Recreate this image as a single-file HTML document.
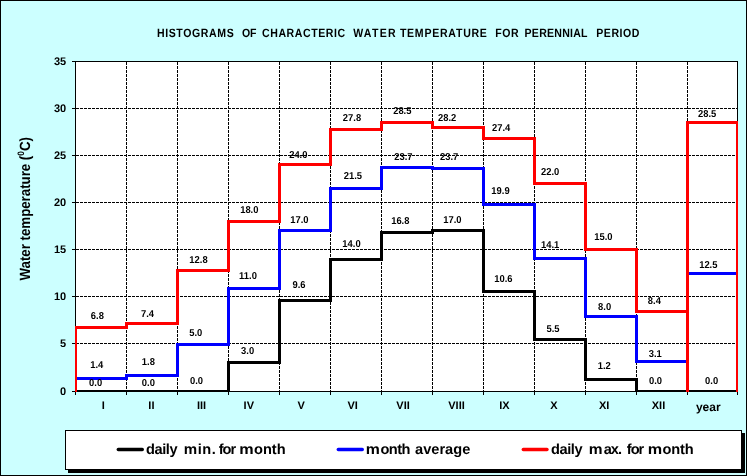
<!DOCTYPE html>
<html><head><meta charset="utf-8"><title>Histograms</title>
<style>
html,body{margin:0;padding:0;background:#ccffff;}
body{width:747px;height:476px;overflow:hidden;font-family:"Liberation Sans",sans-serif;}
svg{display:block;position:absolute;left:0;top:0;will-change:transform;}
text{font-family:"Liberation Sans",sans-serif;font-weight:bold;fill:#000;text-rendering:geometricPrecision;}
.dl{font-size:10px;text-anchor:middle;}
.ax{font-size:11px;}
.g{stroke:#000;stroke-width:1;stroke-dasharray:3 1;shape-rendering:crispEdges;fill:none;}
.s{fill:none;stroke-width:3;stroke-linejoin:miter;stroke-linecap:butt;shape-rendering:crispEdges;}
</style></head><body>
<svg width="747" height="476" viewBox="0 0 747 476">
<rect x="0" y="0" width="747" height="476" fill="#ccffff"/>
<rect x="0.5" y="0.5" width="746" height="475" fill="none" stroke="#000" stroke-width="1" shape-rendering="crispEdges"/>
<rect x="75.5" y="61.5" width="662" height="330" fill="#fff" stroke="#000" stroke-width="1" shape-rendering="crispEdges"/>
<line class="g" x1="76" y1="108.5" x2="737" y2="108.5"/>
<line class="g" x1="76" y1="155.5" x2="737" y2="155.5"/>
<line class="g" x1="76" y1="202.5" x2="737" y2="202.5"/>
<line class="g" x1="76" y1="249.5" x2="737" y2="249.5"/>
<line class="g" x1="76" y1="296.5" x2="737" y2="296.5"/>
<line class="g" x1="76" y1="343.5" x2="737" y2="343.5"/>
<line class="g" x1="126.5" y1="62" x2="126.5" y2="391"/>
<line class="g" x1="177.5" y1="62" x2="177.5" y2="391"/>
<line class="g" x1="228.5" y1="62" x2="228.5" y2="391"/>
<line class="g" x1="279.5" y1="62" x2="279.5" y2="391"/>
<line class="g" x1="330.5" y1="62" x2="330.5" y2="391"/>
<line class="g" x1="381.5" y1="62" x2="381.5" y2="391"/>
<line class="g" x1="432.5" y1="62" x2="432.5" y2="391"/>
<line class="g" x1="483.5" y1="62" x2="483.5" y2="391"/>
<line class="g" x1="534.5" y1="62" x2="534.5" y2="391"/>
<line class="g" x1="585.5" y1="62" x2="585.5" y2="391"/>
<line class="g" x1="636.5" y1="62" x2="636.5" y2="391"/>
<line class="g" x1="687.5" y1="62" x2="687.5" y2="391"/>
<line x1="72" y1="61.5" x2="76" y2="61.5" stroke="#000" stroke-width="1" shape-rendering="crispEdges"/>
<line x1="72" y1="108.5" x2="76" y2="108.5" stroke="#000" stroke-width="1" shape-rendering="crispEdges"/>
<line x1="72" y1="155.5" x2="76" y2="155.5" stroke="#000" stroke-width="1" shape-rendering="crispEdges"/>
<line x1="72" y1="202.5" x2="76" y2="202.5" stroke="#000" stroke-width="1" shape-rendering="crispEdges"/>
<line x1="72" y1="249.5" x2="76" y2="249.5" stroke="#000" stroke-width="1" shape-rendering="crispEdges"/>
<line x1="72" y1="296.5" x2="76" y2="296.5" stroke="#000" stroke-width="1" shape-rendering="crispEdges"/>
<line x1="72" y1="343.5" x2="76" y2="343.5" stroke="#000" stroke-width="1" shape-rendering="crispEdges"/>
<line x1="72" y1="391.5" x2="76" y2="391.5" stroke="#000" stroke-width="1" shape-rendering="crispEdges"/>
<line x1="75.5" y1="391" x2="75.5" y2="395" stroke="#000" stroke-width="1" shape-rendering="crispEdges"/>
<line x1="126.5" y1="391" x2="126.5" y2="395" stroke="#000" stroke-width="1" shape-rendering="crispEdges"/>
<line x1="177.5" y1="391" x2="177.5" y2="395" stroke="#000" stroke-width="1" shape-rendering="crispEdges"/>
<line x1="228.5" y1="391" x2="228.5" y2="395" stroke="#000" stroke-width="1" shape-rendering="crispEdges"/>
<line x1="279.5" y1="391" x2="279.5" y2="395" stroke="#000" stroke-width="1" shape-rendering="crispEdges"/>
<line x1="330.5" y1="391" x2="330.5" y2="395" stroke="#000" stroke-width="1" shape-rendering="crispEdges"/>
<line x1="381.5" y1="391" x2="381.5" y2="395" stroke="#000" stroke-width="1" shape-rendering="crispEdges"/>
<line x1="432.5" y1="391" x2="432.5" y2="395" stroke="#000" stroke-width="1" shape-rendering="crispEdges"/>
<line x1="483.5" y1="391" x2="483.5" y2="395" stroke="#000" stroke-width="1" shape-rendering="crispEdges"/>
<line x1="534.5" y1="391" x2="534.5" y2="395" stroke="#000" stroke-width="1" shape-rendering="crispEdges"/>
<line x1="585.5" y1="391" x2="585.5" y2="395" stroke="#000" stroke-width="1" shape-rendering="crispEdges"/>
<line x1="636.5" y1="391" x2="636.5" y2="395" stroke="#000" stroke-width="1" shape-rendering="crispEdges"/>
<line x1="687.5" y1="391" x2="687.5" y2="395" stroke="#000" stroke-width="1" shape-rendering="crispEdges"/>
<line x1="737.5" y1="391" x2="737.5" y2="395" stroke="#000" stroke-width="1" shape-rendering="crispEdges"/>
<text class="ax" x="66.2" y="65.4" text-anchor="end">35</text>
<text class="ax" x="66.2" y="112.4" text-anchor="end">30</text>
<text class="ax" x="66.2" y="159.4" text-anchor="end">25</text>
<text class="ax" x="66.2" y="206.4" text-anchor="end">20</text>
<text class="ax" x="66.2" y="253.4" text-anchor="end">15</text>
<text class="ax" x="66.2" y="300.4" text-anchor="end">10</text>
<text class="ax" x="66.2" y="347.4" text-anchor="end">5</text>
<text class="ax" x="66.2" y="395.0" text-anchor="end">0</text>
<clipPath id="cp"><rect x="75" y="50" width="663" height="342"/></clipPath><g clip-path="url(#cp)">
<path class="s" stroke="#000" d="M75.5,391.5 L126.5,391.5 L126.5,391.5 L177.5,391.5 L177.5,391.5 L228.5,391.5 L228.5,362.5 L279.5,362.5 L279.5,300.5 L330.5,300.5 L330.5,259.5 L381.5,259.5 L381.5,232.5 L432.5,232.5 L432.5,230.5 L483.5,230.5 L483.5,291.5 L534.5,291.5 L534.5,339.5 L585.5,339.5 L585.5,379.5 L636.5,379.5 L636.5,391.5 L687.5,391.5 L687.5,391.5 L737.5,391.5"/>
<path class="s" stroke="#00f" d="M75.5,378.5 L126.5,378.5 L126.5,375.5 L177.5,375.5 L177.5,344.5 L228.5,344.5 L228.5,288.5 L279.5,288.5 L279.5,230.5 L330.5,230.5 L330.5,188.5 L381.5,188.5 L381.5,167.5 L432.5,167.5 L432.5,168.5 L483.5,168.5 L483.5,204.5 L534.5,204.5 L534.5,258.5 L585.5,258.5 L585.5,316.5 L636.5,316.5 L636.5,361.5 L687.5,361.5 L687.5,273.5 L737.5,273.5"/>
<path class="s" stroke="#f00" d="M75.5,392.0 L75.5,327.5 L126.5,327.5 L126.5,323.5 L177.5,323.5 L177.5,270.5 L228.5,270.5 L228.5,221.5 L279.5,221.5 L279.5,164.5 L330.5,164.5 L330.5,129.5 L381.5,129.5 L381.5,122.5 L432.5,122.5 L432.5,127.5 L483.5,127.5 L483.5,138.5 L534.5,138.5 L534.5,183.5 L585.5,183.5 L585.5,249.5 L636.5,249.5 L636.5,311.5 L687.5,311.5 L687.5,392.0 L687.5,122.5 L737.5,122.5 L737.5,392.0"/>
</g>
<text class="dl" transform="translate(97.4,319.1) scale(0.94,1)">6.8</text>
<text class="dl" transform="translate(147.5,317.1) scale(0.94,1)">7.4</text>
<text class="dl" transform="translate(198.5,263.1) scale(0.94,1)">12.8</text>
<text class="dl" transform="translate(249.3,213.1) scale(0.94,1)">18.0</text>
<text class="dl" transform="translate(298.3,158.1) scale(0.94,1)">24.0</text>
<text class="dl" transform="translate(352.0,121.1) scale(0.94,1)">27.8</text>
<text class="dl" transform="translate(402.3,114.1) scale(0.94,1)">28.5</text>
<text class="dl" transform="translate(447.1,121.1) scale(0.94,1)">28.2</text>
<text class="dl" transform="translate(501.2,131.1) scale(0.94,1)">27.4</text>
<text class="dl" transform="translate(550.2,175.1) scale(0.94,1)">22.0</text>
<text class="dl" transform="translate(603.4,240.1) scale(0.94,1)">15.0</text>
<text class="dl" transform="translate(654.4,304.1) scale(0.94,1)">8.4</text>
<text class="dl" transform="translate(707.2,117.1) scale(0.94,1)">28.5</text>
<text class="dl" transform="translate(96.7,368.1) scale(0.94,1)">1.4</text>
<text class="dl" transform="translate(148.4,365.1) scale(0.94,1)">1.8</text>
<text class="dl" transform="translate(195.7,336.1) scale(0.94,1)">5.0</text>
<text class="dl" transform="translate(248.0,279.1) scale(0.94,1)">11.0</text>
<text class="dl" transform="translate(299.4,223.1) scale(0.94,1)">17.0</text>
<text class="dl" transform="translate(352.9,179.1) scale(0.94,1)">21.5</text>
<text class="dl" transform="translate(403.4,160.1) scale(0.94,1)">23.7</text>
<text class="dl" transform="translate(449.1,160.1) scale(0.94,1)">23.7</text>
<text class="dl" transform="translate(500.5,194.1) scale(0.94,1)">19.9</text>
<text class="dl" transform="translate(550.2,248.1) scale(0.94,1)">14.1</text>
<text class="dl" transform="translate(604.6,310.1) scale(0.94,1)">8.0</text>
<text class="dl" transform="translate(655.3,357.1) scale(0.94,1)">3.1</text>
<text class="dl" transform="translate(708.3,268.1) scale(0.94,1)">12.5</text>
<text class="dl" transform="translate(95.6,386.1) scale(0.94,1)">0.0</text>
<text class="dl" transform="translate(148.4,386.1) scale(0.94,1)">0.0</text>
<text class="dl" transform="translate(196.5,384.1) scale(0.94,1)">0.0</text>
<text class="dl" transform="translate(247.6,354.1) scale(0.94,1)">3.0</text>
<text class="dl" transform="translate(299.0,288.1) scale(0.94,1)">9.6</text>
<text class="dl" transform="translate(351.5,247.1) scale(0.94,1)">14.0</text>
<text class="dl" transform="translate(400.3,224.1) scale(0.94,1)">16.8</text>
<text class="dl" transform="translate(452.4,223.1) scale(0.94,1)">17.0</text>
<text class="dl" transform="translate(503.4,282.1) scale(0.94,1)">10.6</text>
<text class="dl" transform="translate(553.0,332.1) scale(0.94,1)">5.5</text>
<text class="dl" transform="translate(604.2,369.1) scale(0.94,1)">1.2</text>
<text class="dl" transform="translate(655.5,384.1) scale(0.94,1)">0.0</text>
<text class="dl" transform="translate(711.6,384.1) scale(0.94,1)">0.0</text>
<text class="ax" x="103.3" y="409.2" text-anchor="middle">I</text>
<text class="ax" x="151.4" y="409.2" text-anchor="middle">II</text>
<text class="ax" x="201.6" y="409.2" text-anchor="middle">III</text>
<text class="ax" x="248.8" y="409.2" text-anchor="middle">IV</text>
<text class="ax" x="301.1" y="409.2" text-anchor="middle">V</text>
<text class="ax" x="352.7" y="409.2" text-anchor="middle">VI</text>
<text class="ax" x="403.1" y="409.2" text-anchor="middle">VII</text>
<text class="ax" x="456.5" y="409.2" text-anchor="middle">VIII</text>
<text class="ax" x="504.4" y="409.2" text-anchor="middle">IX</text>
<text class="ax" x="553.9" y="409.2" text-anchor="middle">X</text>
<text class="ax" x="604.1" y="409.2" text-anchor="middle">XI</text>
<text class="ax" x="658.5" y="409.2" text-anchor="middle">XII</text>
<text x="708.3" y="411" text-anchor="middle" font-size="12">year</text>
<text transform="translate(156.9,37) scale(0.88,1)" font-size="12" textLength="87.4" lengthAdjust="spacing">HISTOGRAMS</text>
<text transform="translate(242.0,37) scale(0.88,1)" font-size="12" textLength="16.4" lengthAdjust="spacing">OF</text>
<text transform="translate(262.0,37) scale(0.88,1)" font-size="12" textLength="94.5" lengthAdjust="spacing">CHARACTERIC</text>
<text transform="translate(353.2,37) scale(0.88,1)" font-size="12" textLength="48.2" lengthAdjust="spacing">WATER</text>
<text transform="translate(399.9,37) scale(0.88,1)" font-size="12" textLength="98.9" lengthAdjust="spacing">TEMPERATURE</text>
<text transform="translate(495.3,37) scale(0.88,1)" font-size="12" textLength="26.5" lengthAdjust="spacing">FOR</text>
<text transform="translate(524.6,37) scale(0.88,1)" font-size="12" textLength="71.5" lengthAdjust="spacing">PERENNIAL</text>
<text transform="translate(596.3,37) scale(0.88,1)" font-size="12" textLength="49.0" lengthAdjust="spacing">PERIOD</text>
<text transform="translate(29.8,208.8) rotate(-90) scale(0.9,1)" text-anchor="middle" font-size="14.8" textLength="159.4" lengthAdjust="spacing">Water temperature (<tspan font-size="9.3" dy="-5.7">0</tspan><tspan dy="5.7">C)</tspan></text>
<rect x="68" y="433" width="677" height="40" fill="#000" shape-rendering="crispEdges"/>
<rect x="65.5" y="430.5" width="676" height="39" fill="#fff" stroke="#000" stroke-width="1" shape-rendering="crispEdges"/>
<line x1="118.3" y1="449.5" x2="142.3" y2="449.5" stroke="#000" stroke-width="3.4" stroke-linecap="round"/>
<text x="145.9" y="454" font-size="14.6" textLength="31.7" lengthAdjust="spacing">daily</text>
<text x="183.8" y="454" font-size="14.6" textLength="13.4" lengthAdjust="spacingAndGlyphs">m</text>
<text x="197.7" y="454" font-size="14.6" textLength="18.1" lengthAdjust="spacing">in.</text>
<text x="218.7" y="454" font-size="14.6" textLength="17.4" lengthAdjust="spacing">for</text>
<text x="239.2" y="454" font-size="14.6" textLength="14.4" lengthAdjust="spacingAndGlyphs">m</text>
<text x="254.0" y="454" font-size="14.6" textLength="31.6" lengthAdjust="spacing">onth</text>
<line x1="338.3" y1="449.5" x2="362.3" y2="449.5" stroke="#00f" stroke-width="3.4" stroke-linecap="round"/>
<text x="365.7" y="454" font-size="14.6" textLength="14.1" lengthAdjust="spacingAndGlyphs">m</text>
<text x="380.5" y="454" font-size="14.6" textLength="29.9" lengthAdjust="spacing">onth</text>
<text x="415.0" y="454" font-size="14.6" textLength="55.3" lengthAdjust="spacing">average</text>
<line x1="523.3" y1="449.5" x2="547" y2="449.5" stroke="#f00" stroke-width="3.4" stroke-linecap="round"/>
<text x="550.9" y="454" font-size="14.6" textLength="31.7" lengthAdjust="spacing">daily</text>
<text x="588.8" y="454" font-size="14.6" textLength="13.8" lengthAdjust="spacingAndGlyphs">m</text>
<text x="603.7" y="454" font-size="14.6" textLength="18.3" lengthAdjust="spacing">ax.</text>
<text x="626.8" y="454" font-size="14.6" textLength="17.4" lengthAdjust="spacing">for</text>
<text x="647.8" y="454" font-size="14.6" textLength="14.4" lengthAdjust="spacingAndGlyphs">m</text>
<text x="662.6" y="454" font-size="14.6" textLength="31.1" lengthAdjust="spacing">onth</text>
</svg></body></html>
